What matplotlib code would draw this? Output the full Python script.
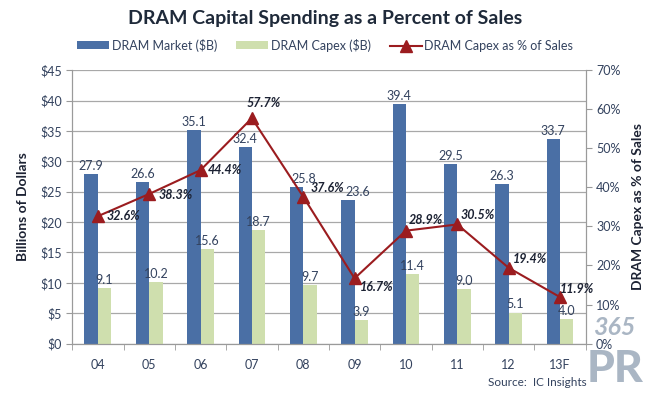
import numpy as np
import matplotlib
matplotlib.use("Agg")
import matplotlib.pyplot as plt
from matplotlib.ticker import FixedLocator

plt.rcParams['font.family'] = ['Lato', 'DejaVu Sans']

years = ['04', '05', '06', '07', '08', '09', '10', '11', '12', '13F']
market = [27.9, 26.6, 35.1, 32.4, 25.8, 23.6, 39.4, 29.5, 26.3, 33.7]
capex = [9.1, 10.2, 15.6, 18.7, 9.7, 3.9, 11.4, 9.0, 5.1, 4.0]
pct = [32.6, 38.3, 44.4, 57.7, 37.6, 16.7, 28.9, 30.5, 19.4, 11.9]
# label nudges (points): percent labels relative to marker, market labels sideways
pct_offsets = [(6, 0), (7, -1), (5, 0), (-4, 11), (5, 6.5), (4, -6), (2, 8), (2, 6.5), (3, 6.5), (0, 6)]
market_dx = [0, 0, 0, 0, 5, 7, 0, 0, 0, 0]

blue = '#4a6fa5'
green = '#cfdfae'
red = '#9b1c1f'
txt = '#33425e'

fig = plt.figure(figsize=(6.5, 3.94), dpi=100)
ax = fig.add_axes([0.111, 0.128, 0.79, 0.694])
ax2 = ax.twinx()

x = np.arange(len(years))
w = 0.26
b1 = ax.bar(x - w / 2, market, w, color=blue, zorder=2, label='DRAM Market ($B)')
b2 = ax.bar(x + w / 2, capex, w, color=green, zorder=2, label='DRAM Capex ($B)')

for xi, v, dx in zip(x, market, market_dx):
    ax.annotate(f'{v:.1f}', (xi - w / 2, v), xytext=(dx, 1.5), textcoords='offset points',
                ha='center', va='bottom', fontsize=9, color=txt)
for xi, v in zip(x, capex):
    ax.annotate(f'{v:.1f}', (xi + w / 2, v), xytext=(0, 1.5), textcoords='offset points',
                ha='center', va='bottom', fontsize=9, color=txt)

ln, = ax2.plot(x, pct, color=red, lw=1.5, marker='^', ms=8, label='DRAM Capex as % of Sales', zorder=3)
for xi, v, off in zip(x, pct, pct_offsets):
    ax2.annotate(f'{v:.1f}%', (xi, v), xytext=off, textcoords='offset points',
                 ha='left', va='center', fontsize=9, fontweight='bold', fontstyle='italic',
                 color='#1c2233', zorder=4)

ax.set_xlim(-0.5, len(years) - 0.5)
ax.set_ylim(0, 45)
ax.set_yticks(np.arange(0, 46, 5))
ax.set_yticklabels([f'${v}' for v in range(0, 46, 5)])
ax2.set_ylim(0, 70)
ax2.set_yticks(np.arange(0, 71, 10))
ax2.set_yticklabels([f'{v}%' for v in range(0, 71, 10)])

ax.set_xticks(x)
ax.set_xticklabels(years)
ax.xaxis.set_minor_locator(FixedLocator(np.arange(-0.5, len(years), 1)))
ax.tick_params(axis='x', which='major', length=0, pad=11, labelsize=9, labelcolor=txt)
ax.tick_params(axis='x', which='minor', length=4, color='#9a9a9a')
ax.tick_params(axis='y', length=4, color='#9a9a9a', labelsize=9, labelcolor=txt)
ax2.tick_params(axis='y', length=4, color='#9a9a9a', labelsize=9, labelcolor=txt)

ax.grid(axis='y', color='#a8a8a8', lw=0.9, zorder=0)
ax.set_axisbelow(True)
for a in (ax, ax2):
    a.spines['top'].set_visible(False)
    for s in ('left', 'right', 'bottom'):
        a.spines[s].set_color('#9a9a9a')

ax.set_ylabel('Billions of Dollars', fontsize=10, fontweight='bold', color='#1c2233', labelpad=8)
ax2.set_ylabel('DRAM Capex as % of Sales', fontsize=10, fontweight='bold', color='#1c2233', labelpad=8)

fig.text(0.5, 0.952, 'DRAM Capital Spending as a Percent of Sales', ha='center', va='center',
         fontsize=14, fontweight='bold', color='#1f2a3a')
fig.legend(handles=[b1, b2, ln], loc='center', bbox_to_anchor=(0.5, 0.885), ncol=3, frameon=False,
           fontsize=9, handlelength=2.6, handleheight=0.6, columnspacing=1.5, handletextpad=0.2,
           labelcolor=txt)

fig.text(0.902, 0.028, 'Source:  IC Insights', ha='right', va='center', fontsize=8.5, color=txt)
# watermark in the corner
fig.text(0.978, 0.168, '365', ha='right', va='center', fontsize=18, fontweight='bold',
         fontstyle='italic', color='#aab6c4', zorder=0)
fig.text(0.99, 0.03, 'PR', ha='right', va='baseline', fontsize=32, fontweight='black',
         color='#aab6c4', zorder=0)

fig.savefig('out.png', dpi=100)
